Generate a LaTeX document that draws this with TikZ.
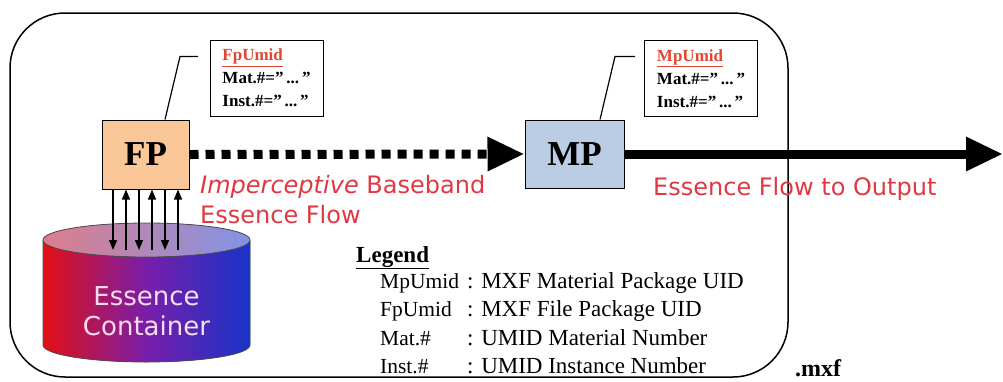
\documentclass[tikz,border=0pt]{standalone}
\usepackage{fontspec}
\setmainfont{Liberation Serif}
\newfontfamily\labelsans{DejaVu Sans}
\usetikzlibrary{arrows.meta}

\definecolor{fpfill}{RGB}{250,200,152}
\definecolor{mpfill}{RGB}{186,205,228}
\definecolor{flowred}{RGB}{224,56,66}
\definecolor{idred}{RGB}{226,70,50}
\definecolor{cylred}{RGB}{226,16,20}
\definecolor{cylmid}{RGB}{120,30,170}
\definecolor{cylblue}{RGB}{22,52,200}
\definecolor{captopl}{RGB}{222,125,140}
\definecolor{captopr}{RGB}{128,148,230}
\definecolor{cyltext}{RGB}{250,220,235}

\tikzset{
  frame/.style={draw, line width=1.5pt, rounded corners=55pt},
  pkg/.style={draw, line width=1pt, inner sep=0pt,
    font=\fontsize{35}{35}\selectfont\bfseries},
  idbox/.style={draw, line width=1pt, inner sep=0pt, align=left,
    minimum width=113pt, minimum height=76pt,
    font=\fontsize{17}{23}\selectfont\bfseries},
  callout/.style={draw, line width=1.2pt},
  flowline/.style={line width=9pt, -{Triangle[length=37pt,width=32pt]}},
  io/.style={line width=1.3pt, -{Triangle[length=10pt,width=8pt]}},
  flowtext/.style={inner sep=0pt, text=flowred,
    font=\labelsans\fontsize{24}{28}\selectfont},
  legtext/.style={inner sep=0pt, font=\fontsize{23}{28}\selectfont},
  legkey/.style={inner sep=0pt, font=\fontsize{21.5}{28}\selectfont},
}

\begin{document}
\begin{tikzpicture}[x=1pt,y=-1pt]
\useasboundingbox (0,0) rectangle (1003,381);

% outer file boundary
\draw[frame] (10,13) rectangle (788,377);

% essence container (cylinder)
\fill[left color=cylred, right color=cylblue, middle color=cylmid]
  (43,240) -- (43,345) arc[start angle=180, end angle=0, x radius=103.5, y radius=17]
  -- (250,240) -- cycle;
\draw[line width=0.8pt, black!70]
  (43,240) -- (43,345) arc[start angle=180, end angle=0, x radius=103.5, y radius=17]
  -- (250,240);
\fill[left color=captopl, right color=captopr] (146.5,240) ellipse [x radius=103.5, y radius=17];
\draw[line width=0.8pt, black!70] (146.5,240) ellipse [x radius=103.5, y radius=17];
\node[inner sep=0pt, align=center, text=cyltext,
      font=\labelsans\fontsize{26}{30}\selectfont] (ec) at (146.5,311) {Essence\\Container};
\coordinate (ectop) at (145.5,250);

% packages
\node[pkg, fill=fpfill, minimum width=87pt, minimum height=69pt] (fp) at (145.5,154.5) {FP};
\node[pkg, fill=mpfill, minimum width=99pt, minimum height=68pt] (mp) at (574.5,154) {MP};
\coordinate (out) at (1003,154);

% identifier boxes
\node[idbox] (fpid) at (266.5,78) {\textcolor{idred}{\underline{FpUmid}}\\Mat.\#=''\,...\,''\\Inst.\#=''\,...\,''};
\node[idbox] (mpid) at (701,78.5) {\textcolor{idred}{\underline{MpUmid}}\\Mat.\#=''\,...\,''\\Inst.\#=''\,...\,''};
\draw[callout] ([xshift=19.5pt]fp.north) -- ++(15,-63) -- ++(18,0);
\draw[callout] ([xshift=25.5pt]mp.north) -- ++(15,-63) -- ++(20,0);

% essence flows
\draw[flowline, dash pattern=on 9pt off 7pt] (fp.east) -- (mp.west);
\draw[flowline] (mp.east) -- (out);

% read/write between FP and container
\foreach \dx in {-32.5,-6.5,19.5}
  \draw[io] ([xshift=\dx pt]fp.south) -- ([xshift=\dx pt]ectop);
\foreach \dx in {-19.5,6.5,32.5}
  \draw[io] ([xshift=\dx pt]ectop) -- ([xshift=\dx pt]fp.south);

% flow labels
\node[flowtext, anchor=base west] (bb1) at (200,193) {\textit{Imperceptive} Baseband};
\node[flowtext, anchor=base west] (bb2) at (200,223) {Essence Flow};
\node[flowtext, anchor=base west] (outl) at (653,195) {Essence Flow to Output};

% legend
\node[legtext, anchor=base west, font=\fontsize{23}{28}\selectfont\bfseries] (lg) at (356,262) {\underline{Legend}};
\node[legkey, anchor=base west] (k1) at (380,288) {MpUmid};
\node[legkey, anchor=base west] (k2) at (380,316) {FpUmid};
\node[legkey, anchor=base west] (k3) at (380,345) {Mat.\#};
\node[legkey, anchor=base west] (k4) at (380,373) {Inst.\#};
\node[legtext, anchor=base west] (d1) at (467,288) {: MXF Material Package UID};
\node[legtext, anchor=base west] (d2) at (467,316) {: MXF File Package UID};
\node[legtext, anchor=base west] (d3) at (467,345) {: UMID Material Number};
\node[legtext, anchor=base west] (d4) at (467,373) {: UMID Instance Number};

% file extension
\node[inner sep=0pt, anchor=base west, font=\fontsize{24}{24}\selectfont\bfseries] (ext) at (795,376) {.mxf};
\end{tikzpicture}
\end{document}
